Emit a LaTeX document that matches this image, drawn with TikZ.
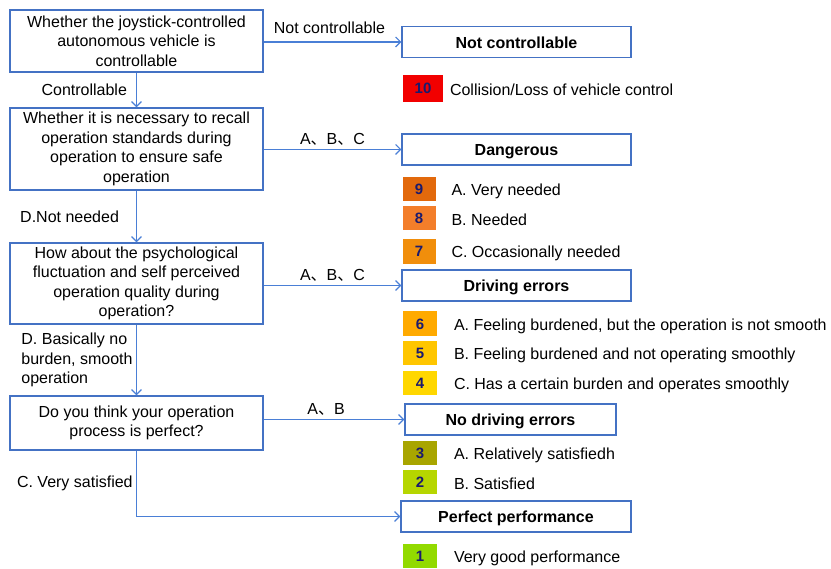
\documentclass[tikz,border=0pt]{standalone}
\usepackage{fontspec}
\setmainfont{Liberation Sans}
\newfontfamily\cjk{Noto Sans CJK SC}
\usepackage{tikz}
\usetikzlibrary{arrows.meta,positioning}
\definecolor{boxblue}{HTML}{4472C4}
\definecolor{flowblue}{HTML}{4A7FD6}
\definecolor{scoretext}{HTML}{1A1A6E}
\definecolor{s10}{HTML}{F20000}
\definecolor{s9}{HTML}{E2690C}
\definecolor{s8}{HTML}{F37E2A}
\definecolor{s7}{HTML}{F18E0B}
\definecolor{s6}{HTML}{FFAA00}
\definecolor{s5}{HTML}{FFC600}
\definecolor{s4}{HTML}{FFD700}
\definecolor{s3}{HTML}{A8A500}
\definecolor{s2}{HTML}{B6D600}
\definecolor{s1}{HTML}{92DA00}

\begin{document}
\begin{tikzpicture}[x=1pt,y=-1pt,line width=1pt,>={Straight Barb[length=5pt,width=10pt]},
  every node/.style={font=\fontsize{16}{19.5}\selectfont},
  qbox/.style={draw=boxblue,line width=1.4pt,minimum width=253pt,align=center,inner sep=0pt},
  rbox/.style={draw=boxblue,line width=1.4pt,minimum height=31pt,text height=12.5pt,text depth=0pt,font=\fontsize{16}{19}\selectfont\bfseries},
  score/.style={minimum width=33pt,minimum height=24pt,inner sep=0pt,text=scoretext,font=\fontsize{15}{16}\selectfont\bfseries},
  item/.style={inner sep=0pt,yshift=-2pt},
  flow/.style={->,draw=flowblue,line width=1.1pt}]
\useasboundingbox (0,0) rectangle (831,569);

% questions
\node[qbox,minimum height=62pt] (q1) at (136.5,41) {Whether the joystick-controlled\\autonomous vehicle is\\controllable};
\node[qbox,minimum height=82pt] (q2) at (136.5,149) {Whether it is necessary to recall\\operation standards during\\operation to ensure safe\\operation};
\node[qbox,minimum height=81pt] (q3) at (136.5,283.5) {How about the psychological\\fluctuation and self perceived\\operation quality during\\operation?};
\node[qbox,minimum height=54pt] (q4) at (136.5,423) {Do you think your operation\\process is perfect?};

% results
\node[rbox,minimum width=229pt] (r1) at (516.5,42) {Not controllable};
\node[rbox,minimum width=229pt] (r2) at (516.5,149.5) {Dangerous};
\node[rbox,minimum width=229pt] (r3) at (516.5,285.5) {Driving errors};
\node[rbox,minimum width=211pt] (r4) at (510.5,419.5) {No driving errors};
\node[rbox,minimum width=230pt] (r5) at (516,516.5) {Perfect performance};

% scores
\node[score,fill=s10,minimum width=40pt,minimum height=27pt] (s10) at (423,88.5) {10};
\node[item,right=6pt of s10,yshift=1pt] (t10) {Collision/Loss of vehicle control};
\node[score,fill=s9] (s9) at (419,189) {9};
\node[item,right=15pt of s9] (t9) {A. Very needed};
\node[score,fill=s8] (s8) at (419,218) {8};
\node[item,right=15pt of s8] (t8) {B. Needed};
\node[score,fill=s7,minimum height=25pt] (s7) at (419,251.5) {7};
\node[item,right=15pt of s7] (t7) {C. Occasionally needed};
\node[score,fill=s6,minimum width=34pt,minimum height=25pt] (s6) at (420,324) {6};
\node[item,right=16pt of s6] (t6) {A. Feeling burdened, but the operation is not smooth};
\node[score,fill=s5,minimum width=34pt] (s5) at (420,353) {5};
\node[item,right=16pt of s5] (t5) {B. Feeling burdened and not operating smoothly};
\node[score,fill=s4,minimum width=34pt] (s4) at (420,383) {4};
\node[item,right=16pt of s4] (t4) {C. Has a certain burden and operates smoothly};
\node[score,fill=s3,minimum width=34pt] (s3) at (420,453) {3};
\node[item,right=16pt of s3] (t3) {A. Relatively satisfiedh};
\node[score,fill=s2,minimum width=34pt] (s2) at (420,482) {2};
\node[item,right=16pt of s2] (t2) {B. Satisfied};
\node[score,fill=s1,minimum width=34pt] (s1) at (420,556) {1};
\node[item,right=16pt of s1] (t1) {Very good performance};

% connectors
\draw[flow] (q1.east |- r1.west) -- node[above,yshift=4pt,xshift=-3pt] (l1) {Not controllable} (r1.west);
\draw[flow] (q1) -- node[left,inner sep=9pt] (l2) {Controllable} (q2);
\draw[flow] (q2.east |- r2.west) -- node[above] (l3) {A{\cjk 、}B{\cjk 、}C} (r2.west);
\draw[flow] (q2) -- node[left,inner sep=17pt] (l4) {D.Not needed} (q3);
\draw[flow] (q3.east |- r3.west) -- node[above] (l5) {A{\cjk 、}B{\cjk 、}C} (r3.west);
\draw[flow] (q3) -- node[left,align=left] (l6) {D. Basically no\\burden, smooth\\operation} (q4);
\draw[flow] (q4.east |- r4.west) -- node[above,xshift=-8pt] (l7) {A{\cjk 、}B} (r4.west);
\draw[flow] (q4) |- node[left,pos=0.25] (l8) {C. Very satisfied} (r5);
\end{tikzpicture}
\end{document}
